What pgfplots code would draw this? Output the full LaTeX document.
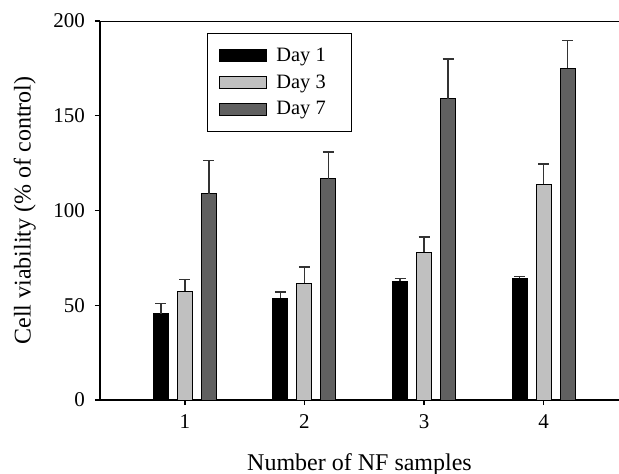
\documentclass[border=0pt]{standalone}
\usepackage{pgfplots}
\pgfplotsset{compat=1.18}
\usepackage{fontspec}
\setmainfont{Liberation Serif}
\definecolor{dayone}{RGB}{0,0,0}
\definecolor{daythree}{RGB}{192,192,192}
\definecolor{dayseven}{RGB}{96,96,96}
\begin{document}
\begin{tikzpicture}
\path[use as bounding box] (-50pt,-36.5pt) rectangle (259.5pt,200pt);
\begin{axis}[
  at={(0,0)}, anchor=south west,
  scale only axis, width=259.5pt, height=189.5pt,
  xmin=0.29, xmax=4.63, ymin=0, ymax=200,
  axis x line*=bottom, axis y line*=left,
  axis line style={line width=1pt},
  tick align=outside, tick style={black, line width=0.6pt},
  major tick length=2.5pt,
  xtick={1,2,3,4}, ytick={0,50,100,150,200},
  tick label style={font=\fontsize{10.5}{12}\selectfont},
  xticklabel style={yshift=-1.5pt},
  yticklabel style={xshift=-1.5pt},
  /pgf/number format/assume math mode=true,
  xlabel={Number of NF samples},
  ylabel={Cell viability (\% of control)},
  label style={font=\fontsize{12}{14}\selectfont},
  xlabel style={yshift=-5.5pt},
  ylabel style={yshift=2pt},
  ybar=4.5pt, bar width=7.5pt,
  legend image code/.code={\draw[#1] (0pt,-3pt) rectangle (23.5pt,3pt);},
  legend style={at={(0.206,0.968)}, anchor=north west, draw=black, line width=0.5pt,
    font=\fontsize{10.2}{12}\selectfont, inner xsep=6pt, inner ysep=5pt,
    row sep=1.2pt, /tikz/every odd column/.append style={column sep=2.5pt}},
  legend cell align=left,
  error bars/y dir=plus, error bars/y explicit,
  error bars/error bar style={line width=0.6pt, black!80},
  error bars/error mark options={rotate=90, mark size=2.75pt, line width=0.6pt, black!80},
]
\addplot[fill=dayone, draw=black, line width=0.5pt] coordinates {
  (1,45.6) +- (0,5.3)
  (2,53.8) +- (0,3.2)
  (3,62.8) +- (0,1.2)
  (4,64.2) +- (0,0.8)
};
\addplot[fill=daythree, draw=black, line width=0.5pt] coordinates {
  (1,57.5) +- (0,6.3)
  (2,61.7) +- (0,8.5)
  (3,78.0) +- (0,8.0)
  (4,113.8) +- (0,10.7)
};
\addplot[fill=dayseven, draw=black, line width=0.5pt] coordinates {
  (1,108.8) +- (0,17.6)
  (2,116.8) +- (0,14.1)
  (3,159.0) +- (0,21.0)
  (4,175.0) +- (0,14.6)
};
\legend{Day 1\rule{5pt}{0pt}, Day 3\rule{5pt}{0pt}, Day 7\rule{5pt}{0pt}}
\draw[line width=1pt] (rel axis cs:0,1) -- (rel axis cs:1,1);
\end{axis}
\end{tikzpicture}
\end{document}
